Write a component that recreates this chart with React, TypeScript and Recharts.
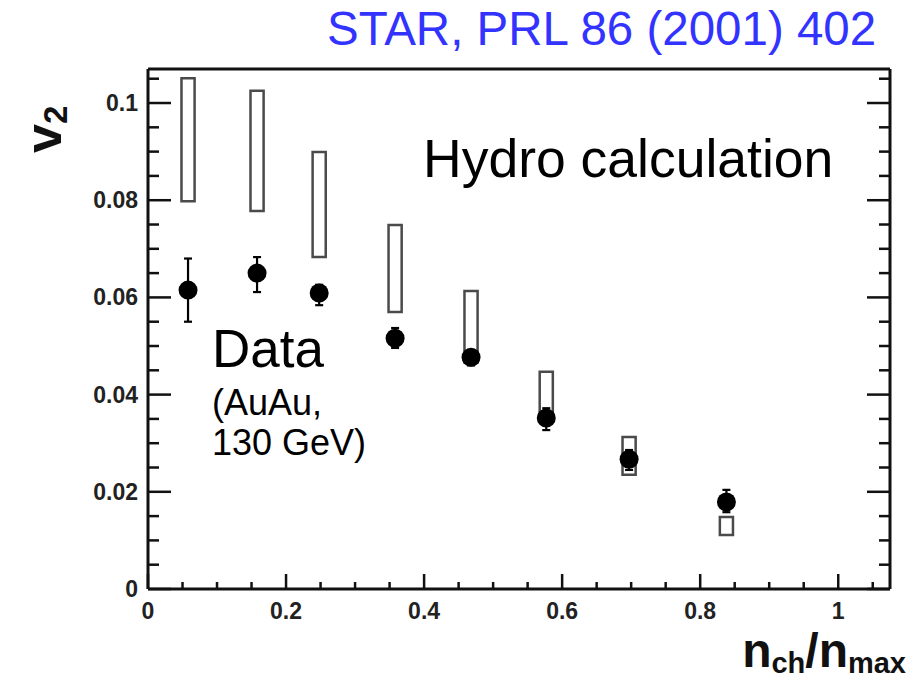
import {
  ComposedChart,
  ErrorBar,
  ReferenceArea,
  Scatter,
  XAxis,
  YAxis,
} from "recharts";

// elliptic flow v2 vs. centrality (n_ch / n_max)
const nchFrac = [0.058, 0.158, 0.248, 0.358, 0.468, 0.577, 0.697, 0.838];
const v2Data = [0.0615, 0.065, 0.0609, 0.0516, 0.0477, 0.0352, 0.0267, 0.0179];
const v2ErrLow = [0.0065, 0.0039, 0.0025, 0.002, 0.0017, 0.0025, 0.0022, 0.0021];
const v2ErrHigh = [0.0065, 0.0033, 0.0017, 0.0021, 0.0013, 0.002, 0.0019, 0.0025];

// hydro band (low / high edge of each box)
const hydroLow = [0.0798, 0.0778, 0.0683, 0.057, 0.0466, 0.0348, 0.0235, 0.0111];
const hydroHigh = [0.1051, 0.1025, 0.0899, 0.0749, 0.0613, 0.0447, 0.0313, 0.0148];

const xMajorTicks = [0, 0.2, 0.4, 0.6, 0.8, 1];
const xTickLabels = ["0", "0.2", "0.4", "0.6", "0.8", "1"];
const yMajorTicks = [0, 0.02, 0.04, 0.06, 0.08, 0.1];
const yTickLabels = ["0", "0.02", "0.04", "0.06", "0.08", "0.1"];

const X_MAX = 1.075;
const Y_MAX = 0.107;
const BOX_HALF = 0.0095;

const FONT = '"Liberation Sans", Arial, Helvetica, sans-serif';
const INK = "#111";

// every tick incl. minor ones (0.05 steps on x, 0.005 on y)
const xTicks = Array.from({ length: 22 }, (_, i) => Number((i * 0.05).toFixed(3)));
const yTicks = Array.from({ length: 22 }, (_, i) => Number((i * 0.005).toFixed(4)));

const points = nchFrac.map((x, i) => ({
  x,
  y: v2Data[i],
  err: [v2ErrLow[i], v2ErrHigh[i]],
}));

const findIndex = (list: number[], v: number) =>
  list.findIndex((t) => Math.abs(t - v) < 1e-6);

type Side = "bottom" | "top" | "left" | "right";

const AxisTick = (props: {
  x?: number;
  y?: number;
  payload?: { value: number };
  side: Side;
}) => {
  const { x = 0, y = 0, payload, side } = props;
  const v = payload?.value ?? 0;
  const horizontal = side === "bottom" || side === "top";
  const idx = horizontal ? findIndex(xMajorTicks, v) : findIndex(yMajorTicks, v);
  const major = idx >= 0;
  const len = horizontal ? (major ? 15 : 7) : major ? 23 : 11;

  let x2 = x;
  let y2 = y;
  if (side === "bottom") y2 = y - len;
  if (side === "top") y2 = y + len;
  if (side === "left") x2 = x + len;
  if (side === "right") x2 = x - len;

  return (
    <g>
      <line x1={x} y1={y} x2={x2} y2={y2} stroke={INK} strokeWidth={2.5} />
      {major && side === "bottom" ? (
        <text
          x={x}
          y={y + 29.5}
          textAnchor="middle"
          fontFamily={FONT}
          fontWeight="bold"
          fontSize={23}
          fill="#222"
        >
          {xTickLabels[idx]}
        </text>
      ) : null}
      {major && side === "left" ? (
        <text
          x={x - 10}
          y={y + 8}
          textAnchor="end"
          fontFamily={FONT}
          fontWeight="bold"
          fontSize={23}
          fill="#222"
        >
          {yTickLabels[idx]}
        </text>
      ) : null}
    </g>
  );
};

const Dot = (props: { cx?: number; cy?: number }) => (
  <circle cx={props.cx} cy={props.cy} r={9.5} fill="#000" />
);

const axisLine = { stroke: INK, strokeWidth: 3 };

export default function App() {
  return (
    <div
      style={{
        position: "absolute",
        left: 0,
        top: 0,
        width: 920,
        height: 680,
        background: "#fff",
      }}
    >
      <ComposedChart
        width={920}
        height={680}
        margin={{ top: 59, right: 20, bottom: 51, left: 88 }}
      >
        <XAxis
          xAxisId="b"
          type="number"
          dataKey="x"
          orientation="bottom"
          domain={[0, X_MAX]}
          allowDataOverflow
          ticks={xTicks}
          interval={0}
          height={40}
          axisLine={axisLine}
          tickLine={false}
          tickSize={0}
          tickMargin={0}
          tick={(p: any) => <AxisTick {...p} side="bottom" />}
        />
        <XAxis
          xAxisId="t"
          type="number"
          orientation="top"
          domain={[0, X_MAX]}
          allowDataOverflow
          ticks={xTicks}
          interval={0}
          height={10}
          axisLine={axisLine}
          tickLine={false}
          tickSize={0}
          tickMargin={0}
          tick={(p: any) => <AxisTick {...p} side="top" />}
        />
        <YAxis
          yAxisId="l"
          type="number"
          dataKey="y"
          orientation="left"
          domain={[0, Y_MAX]}
          allowDataOverflow
          ticks={yTicks}
          interval={0}
          width={60}
          axisLine={axisLine}
          tickLine={false}
          tickSize={0}
          tickMargin={0}
          tick={(p: any) => <AxisTick {...p} side="left" />}
        />
        <YAxis
          yAxisId="r"
          type="number"
          orientation="right"
          domain={[0, Y_MAX]}
          allowDataOverflow
          ticks={yTicks}
          interval={0}
          width={10}
          axisLine={axisLine}
          tickLine={false}
          tickSize={0}
          tickMargin={0}
          tick={(p: any) => <AxisTick {...p} side="right" />}
        />

        {nchFrac.map((x, i) => (
          <ReferenceArea
            key={`hydro-${i}`}
            xAxisId="b"
            yAxisId="l"
            x1={x - BOX_HALF}
            x2={x + BOX_HALF}
            y1={hydroLow[i]}
            y2={hydroHigh[i]}
            fill="none"
            fillOpacity={0}
            stroke="#4a4a4a"
            strokeWidth={2.5}
            ifOverflow="visible"
          />
        ))}

        <Scatter
          xAxisId="b"
          yAxisId="l"
          data={points}
          shape={Dot}
          isAnimationActive={false}
        >
          <ErrorBar
            dataKey="err"
            direction="y"
            width={4}
            stroke="#000"
            strokeWidth={2.2}
            isAnimationActive={false}
          />
        </Scatter>
      </ComposedChart>

      <svg
        width={920}
        height={680}
        style={{ position: "absolute", left: 0, top: 0, pointerEvents: "none" }}
      >
        <text x={327} y={45} fontFamily={FONT} fontSize={47.5} fill="#3333ff">
          STAR, PRL 86 (2001) 402
        </text>
        <text x={423} y={177} fontFamily={FONT} fontSize={53.5} fill="#000">
          Hydro calculation
        </text>
        <text x={212} y={367} fontFamily={FONT} fontSize={53} fill="#000">
          Data
        </text>
        <text x={212} y={415} fontFamily={FONT} fontSize={36} fill="#000">
          (AuAu,
        </text>
        <text x={212} y={455} fontFamily={FONT} fontSize={36} fill="#000">
          130 GeV)
        </text>

        <text
          transform="translate(61,153) rotate(-90)"
          fontFamily={FONT}
          fontWeight="bold"
          fontSize={52}
          fill={INK}
        >
          v
          <tspan fontSize={33} dy={6}>
            2
          </tspan>
        </text>

        <text
          x={906}
          y={667}
          textAnchor="end"
          fontFamily={FONT}
          fontWeight="bold"
          fontSize={48}
          fill={INK}
        >
          n
          <tspan fontSize={29} dy={6}>
            ch
          </tspan>
          <tspan fontSize={48} dy={-6}>
            /n
          </tspan>
          <tspan fontSize={29} dy={6}>
            max
          </tspan>
        </text>
      </svg>
    </div>
  );
}
